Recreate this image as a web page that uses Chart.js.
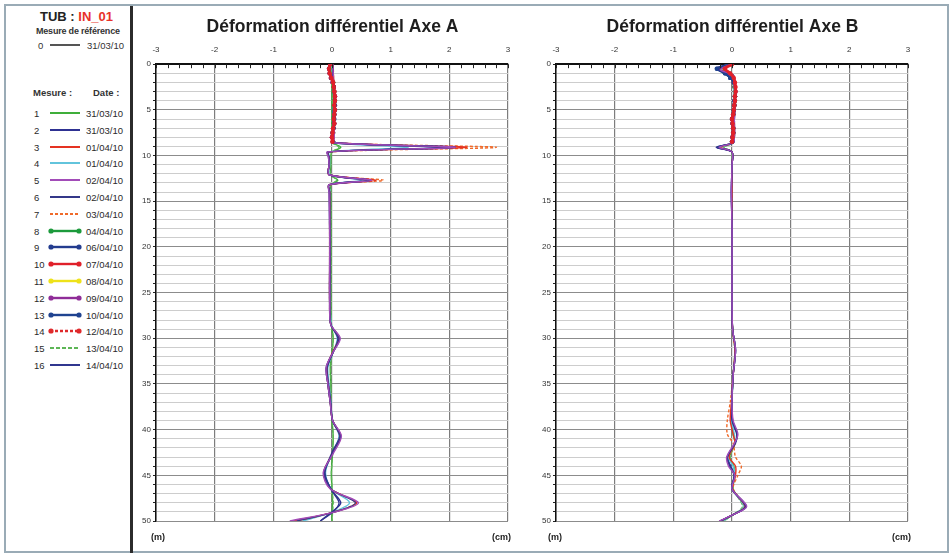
<!DOCTYPE html>
<html>
<head>
<meta charset="utf-8">
<script src="https://cdn.jsdelivr.net/npm/chart.js@4.4.1/dist/chart.umd.min.js"></script>
<style>
  body { margin: 0; background: #fff; }
  #page { position: relative; width: 951px; height: 553px; overflow: hidden; background: #fff;
          font-family: "Liberation Sans Narrow", "DejaVu Sans Condensed", "Liberation Sans", sans-serif; color: #333; }
  .frame { position: absolute; left: 4px; top: 4px; width: 941px; height: 545px; border: 2px solid #9aabb6; }
  .sep { position: absolute; left: 130px; top: 6px; width: 3px; height: 547px; background: #2b2b2b; }
  .txt { position: absolute; white-space: nowrap; line-height: 1; }
  canvas { position: absolute; top: 0; }
  .unit { position: absolute; top: 532px; font: bold 9px "Liberation Sans", sans-serif; color: #222; }
</style>
</head>
<body>
<div id="page">
  <div class="frame"></div>
  <div class="sep"></div>
  <div id="legend"></div>
  <canvas id="chartA" width="395" height="553" style="left:135px"></canvas>
  <canvas id="chartB" width="395" height="553" style="left:535px"></canvas>
  <div class="unit" style="left:151px">(m)</div>
  <div class="unit" style="left:492px">(cm)</div>
  <div class="unit" style="left:548px">(m)</div>
  <div class="unit" style="left:892px">(cm)</div>
</div>
<script>
// Measurement dates (legend)
const refDate = '31/03/10';
const mesureDates = ['31/03/10', '31/03/10', '01/04/10', '01/04/10', '02/04/10', '02/04/10', '03/04/10', '04/04/10',
  '06/04/10', '07/04/10', '08/04/10', '09/04/10', '10/04/10', '12/04/10', '13/04/10', '14/04/10'];

// Axis ticks
const xTicks = [-3, -2, -1, 0, 1, 2, 3];
const depthMax = 50;

// Depths (m) for the full-length readings
const depthA = [0, 2, 4, 6, 8, 8.6, 9.1, 9.6, 10.2, 11, 12.1, 12.7, 13.2, 14, 18, 22, 26, 28.5, 30, 31.5, 33.2, 35, 37, 39, 40.7, 42.5, 44.7, 46.5, 48, 49, 50];
const depthB = [0, 0.6, 1.2, 2, 4, 6, 8, 8.6, 9.1, 9.6, 11, 14, 18, 22, 26, 29, 31.3, 34, 37, 39, 40.5, 41.5, 43, 44, 45, 46.5, 48.4, 49.3, 50];
// Depths (m) for the readings with markers (top of tube only)
const depthTop = [0, 0.5, 1, 1.5, 2, 2.5, 3, 3.5, 4, 4.5, 5, 5.5, 6, 6.5, 7, 7.5, 8, 8.5];

// Axe A (cm)
const axeA_1 = [0, 0, 0, 0, 0, 0.01, 0.15, 0, -0.02, -0.02, -0.02, 0.1, -0.02, -0.02, -0.02, -0.02, -0.02, -0.01, 0.02, 0, -0.03, -0.02, -0.02, 0, 0.02, 0.01, -0.01, 0, 0.01, 0, 0];
const axeA_2 = [0.01, 0.02, 0.03, 0.02, 0.03, 0.02, 1.9, -0.06, -0.05, -0.05, -0.05, 0.6, -0.05, -0.04, -0.04, -0.03, -0.04, -0.02, 0.1, 0.02, -0.08, -0.06, -0.02, 0.01, 0.13, 0, -0.12, -0.02, 0.15, 0, -0.2];
const axeA_3 = [0.01, 0.03, 0.04, 0.03, 0.04, 0.03, 2.3, -0.07, -0.05, -0.05, -0.05, 0.75, -0.05, -0.04, -0.04, -0.04, -0.04, -0.02, 0.12, 0.01, -0.09, -0.07, -0.03, 0.01, 0.14, 0.02, -0.14, -0.02, 0.42, 0.05, -0.65];
const axeA_4 = [0, 0.02, 0.03, 0.02, 0.02, 0.02, 1.3, -0.05, -0.04, -0.04, -0.04, 0.5, -0.04, -0.03, -0.03, -0.03, -0.03, -0.01, 0.09, 0.02, -0.07, -0.05, -0.02, 0.01, 0.12, 0.01, -0.11, -0.01, 0.3, 0.02, -0.5];
const axeA_5 = [0.01, 0.03, 0.04, 0.03, 0.04, 0.03, 2.1, -0.08, -0.06, -0.05, -0.05, 0.68, -0.05, -0.05, -0.04, -0.04, -0.04, -0.02, 0.14, 0.02, -0.1, -0.07, -0.03, 0.01, 0.16, 0.03, -0.15, -0.03, 0.45, 0.06, -0.72];
const axeA_6 = [0.01, 0.02, 0.04, 0.03, 0.03, 0.02, 2.05, -0.07, -0.06, -0.05, -0.05, 0.66, -0.05, -0.05, -0.04, -0.04, -0.04, -0.02, 0.13, 0.02, -0.1, -0.07, -0.03, 0.01, 0.15, 0.02, -0.14, -0.02, 0.4, 0.05, -0.6];
const axeA_7 = [0.02, 0.03, 0.04, 0.03, 0.04, 0.03, 2.8, -0.06, -0.05, -0.05, -0.05, 0.88, -0.05, -0.04, -0.04, -0.04, -0.04, -0.02, 0.12, 0.02, -0.09, -0.06, -0.03, 0.01, 0.15, 0.02, -0.13, -0.02, 0.4, 0.04, -0.6];
const axeA_8 = [-0.02, -0.04, -0.03, 0, 0.02, 0.03, 0.04, 0.04, 0.05, 0.04, 0.04, 0.04, 0.03, 0.03, 0.02, 0.02, 0.01, 0.02];
const axeA_9 = [-0.03, -0.05, -0.03, -0.01, 0.01, 0.03, 0.03, 0.04, 0.04, 0.04, 0.05, 0.03, 0.03, 0.04, 0.02, 0.01, 0, 0.02];
const axeA_10 = [-0.03, -0.05, -0.04, -0.01, 0.02, 0.03, 0.04, 0.05, 0.05, 0.04, 0.05, 0.04, 0.03, 0.04, 0.02, 0.01, 0, 0.01];
const axeA_11 = [-0.02, -0.04, -0.03, -0.01, 0.02, 0.02, 0.04, 0.04, 0.05, 0.04, 0.04, 0.03, 0.03, 0.03, 0.02, 0.01, 0.01, 0.01];
const axeA_12 = [-0.03, -0.05, -0.04, -0.02, 0.01, 0.03, 0.04, 0.05, 0.04, 0.04, 0.05, 0.04, 0.03, 0.03, 0.02, 0.02, 0, 0.01];
const axeA_13 = [-0.02, -0.05, -0.04, -0.01, 0.02, 0.03, 0.03, 0.05, 0.05, 0.05, 0.04, 0.04, 0.04, 0.03, 0.03, 0.01, 0.01, 0.02];
const axeA_14 = [-0.03, -0.04, -0.04, -0.02, 0.01, 0.03, 0.04, 0.04, 0.05, 0.04, 0.05, 0.03, 0.03, 0.04, 0.02, 0.01, 0, 0.01];
const axeA_15 = [0, 0, 0.01, 0, 0, 0.01, 0.12, 0, -0.02, -0.02, -0.02, 0.08, -0.02, -0.02, -0.02, -0.02, -0.02, -0.01, 0.02, 0, -0.02, -0.02, -0.02, 0, 0.02, 0.01, -0.01, 0, 0.02, 0.01, 0];
const axeA_16 = [0.01, 0.02, 0.03, 0.02, 0.03, 0.02, 2.1, -0.07, -0.05, -0.05, -0.05, 0.65, -0.05, -0.04, -0.04, -0.04, -0.04, -0.02, 0.12, 0.02, -0.09, -0.07, -0.03, 0.01, 0.14, 0.02, -0.13, -0.02, 0.12, 0.02, -0.2];

// Axe B (cm)
const axeB_1 = [0, -0.15, 0.01, 0.03, 0.04, 0.03, 0.03, 0.02, -0.15, 0, 0, 0, 0, 0, 0, 0.01, 0.05, 0.02, 0, 0, 0.02, 0.05, -0.04, 0.03, 0.05, 0.02, 0.2, 0.02, -0.15];
const axeB_2 = [0, -0.22, 0.02, 0.04, 0.05, 0.04, 0.04, 0.02, -0.27, 0, 0, -0.01, 0, 0, 0, 0.01, 0.06, 0.02, 0, 0, 0.08, 0.06, -0.08, -0.02, 0.04, 0, 0.24, 0.02, -0.2];
const axeB_3 = [0, -0.2, 0.02, 0.04, 0.05, 0.04, 0.04, 0.02, -0.22, 0, 0, 0, 0, 0, 0, 0.01, 0.05, 0.02, -0.01, -0.03, 0.02, 0.05, -0.05, 0.06, 0.06, 0.01, 0.22, 0.02, -0.2];
const axeB_4 = [0, -0.18, 0.01, 0.03, 0.04, 0.04, 0.03, 0.02, -0.18, 0, 0, 0, 0, 0, 0, 0.01, 0.05, 0.02, 0, -0.01, 0.04, 0.05, -0.06, 0.02, 0.05, 0.01, 0.2, 0.02, -0.16];
const axeB_5 = [0, -0.2, 0.02, 0.04, 0.05, 0.04, 0.04, 0.02, -0.22, 0, 0, -0.01, 0, 0, 0, 0.01, 0.06, 0.02, 0, 0.02, 0.1, 0.04, -0.09, -0.06, 0.05, 0, 0.25, 0.02, -0.22];
const axeB_6 = [0, -0.21, 0.02, 0.04, 0.05, 0.04, 0.04, 0.02, -0.25, 0, 0, -0.01, 0, 0, 0, 0.01, 0.06, 0.02, 0, 0.01, 0.09, 0.05, -0.08, -0.04, 0.04, 0, 0.24, 0.02, -0.21];
const axeB_7 = [0, -0.2, 0.02, 0.04, 0.05, 0.04, 0.04, 0.02, -0.2, 0, 0, 0, 0, 0, 0, 0.01, 0.05, 0.02, -0.03, -0.08, -0.08, 0.02, 0.06, 0.16, 0.1, 0.02, 0.22, 0.02, -0.2];
const axeB_8 = [-0.05, -0.22, -0.1, -0.02, 0.03, 0.04, 0.05, 0.05, 0.05, 0.04, 0.03, 0.02, 0, 0.01, 0.02, 0.02, 0.01, 0];
const axeB_9 = [-0.06, -0.25, -0.12, -0.03, 0.03, 0.05, 0.05, 0.05, 0.04, 0.04, 0.03, 0.02, 0, 0.01, 0.02, 0.02, 0.01, 0];
const axeB_10 = [0, -0.12, -0.03, 0.03, 0.05, 0.06, 0.06, 0.05, 0.05, 0.04, 0.03, 0.02, 0, 0.01, 0.02, 0.02, 0.01, 0];
const axeB_11 = [-0.04, -0.2, -0.08, -0.01, 0.03, 0.05, 0.05, 0.05, 0.05, 0.04, 0.03, 0.02, 0.01, 0.01, 0.02, 0.02, 0.01, 0];
const axeB_12 = [-0.05, -0.23, -0.1, -0.02, 0.03, 0.05, 0.06, 0.05, 0.05, 0.04, 0.03, 0.02, 0, 0.01, 0.02, 0.02, 0.01, 0];
const axeB_13 = [-0.06, -0.26, -0.12, -0.03, 0.03, 0.05, 0.05, 0.05, 0.04, 0.04, 0.03, 0.02, 0, 0.01, 0.02, 0.02, 0.01, 0];
const axeB_14 = [-0.02, -0.15, -0.05, 0.02, 0.04, 0.05, 0.06, 0.05, 0.05, 0.04, 0.03, 0.02, 0, 0.01, 0.02, 0.02, 0.01, 0];
const axeB_15 = [0, -0.14, 0.01, 0.03, 0.04, 0.03, 0.03, 0.02, -0.14, 0, 0, 0, 0, 0, 0, 0.01, 0.05, 0.02, 0, 0, 0.02, 0.05, -0.03, 0.03, 0.05, 0.02, 0.18, 0.02, -0.14];
const axeB_16 = [0, -0.22, 0.02, 0.04, 0.05, 0.04, 0.04, 0.02, -0.26, 0, 0, -0.01, 0, 0, 0, 0.01, 0.06, 0.02, 0, 0.01, 0.09, 0.05, -0.08, -0.03, 0.04, 0, 0.23, 0.02, -0.2];

const seriesA = [axeA_1, axeA_2, axeA_3, axeA_4, axeA_5, axeA_6, axeA_7, axeA_8, axeA_9, axeA_10, axeA_11, axeA_12, axeA_13, axeA_14, axeA_15, axeA_16];
const seriesB = [axeB_1, axeB_2, axeB_3, axeB_4, axeB_5, axeB_6, axeB_7, axeB_8, axeB_9, axeB_10, axeB_11, axeB_12, axeB_13, axeB_14, axeB_15, axeB_16];

// Line styles for each measurement (1..16)
const styles = [
  { color: '#3fae3a', dash: [], marker: false, order: 12 },
  { color: '#2e3192', dash: [], marker: false, order: 6 },
  { color: '#e53322', dash: [], marker: false, order: 5 },
  { color: '#62c4dc', dash: [], marker: false, order: 9 },
  { color: '#a24cb8', dash: [], marker: false, order: 1 },
  { color: '#343889', dash: [], marker: false, order: 3 },
  { color: '#f06a2a', dash: [3, 2], marker: false, order: 8 },
  { color: '#1c9a3c', dash: [], marker: true, order: 16 },
  { color: '#233c8f', dash: [], marker: true, order: 15 },
  { color: '#e0202a', dash: [], marker: true, order: 0 },
  { color: '#eee21a', dash: [], marker: true, order: 17 },
  { color: '#8f2d98', dash: [], marker: true, order: 14 },
  { color: '#1f4390', dash: [], marker: true, order: 13 },
  { color: '#df2a2c', dash: [3, 2], marker: true, order: 18 },
  { color: '#5db656', dash: [4, 2], marker: false, order: 11 },
  { color: '#30368f', dash: [], marker: false, order: 2 }
];

// ----- legend (left column) -----
const legend = document.getElementById('legend');
const legFont = '"Liberation Sans Narrow","Liberation Sans",sans-serif';
function addText(html, left, top, css) {
  const d = document.createElement('div');
  d.className = 'txt';
  d.style.left = left + 'px';
  d.style.top = top + 'px';
  d.style.cssText += css || '';
  d.innerHTML = html;
  legend.appendChild(d);
  return d;
}
function sample(style, top) {
  const svg = `<svg width="34" height="8" style="position:absolute;left:48px;top:${top + 1}px">
    <line x1="2" y1="4" x2="32" y2="4" stroke="${style.color}" stroke-width="${style.marker ? 2.4 : 2}"
      stroke-dasharray="${style.dash.join(',')}"/>
    ${style.marker ? `<circle cx="3" cy="4" r="2.6" fill="${style.color}"/><circle cx="31" cy="4" r="2.6" fill="${style.color}"/>` : ''}
  </svg>`;
  legend.insertAdjacentHTML('beforeend', svg);
}
addText('TUB : <span style="color:#e8322a">IN_01</span>', 40, 9, 'font:bold 13px "Liberation Sans",sans-serif;color:#222;');
addText('Mesure de référence', 36, 26, `font:bold 9px ${legFont};color:#333;letter-spacing:-0.2px;`);
addText('0', 38, 40, `font:9.5px ${legFont};`);
sample({ color: '#555', dash: [], marker: false }, 40);
addText(refDate, 87, 40, `font:9.5px ${legFont};`);
addText('Mesure :', 33, 87, `font:bold 9.5px ${legFont};`);
addText('Date :', 93, 87, `font:bold 9.5px ${legFont};`);
mesureDates.forEach((d, i) => {
  const y = 108 + i * 16.8;
  addText(String(i + 1), 34, y, `font:9.5px ${legFont};color:#2a2a2a;`);
  sample(styles[i], y);
  addText(d, 86, y, `font:9.5px ${legFont};color:#2a2a2a;`);
});

// ----- charts -----
const minorTicks = {
  id: 'minorTicks',
  afterDraw(chart) {
    const { ctx, chartArea, scales: { x } } = chart;
    ctx.save();
    ctx.strokeStyle = '#222';
    ctx.lineWidth = 1;
    x.ticks.forEach(t => {
      const px = Math.round(x.getPixelForValue(t.value)) + 0.5;
      ctx.beginPath();
      ctx.moveTo(px, chartArea.top);
      ctx.lineTo(px, chartArea.top + 4);
      ctx.stroke();
    });
    ctx.restore();
  }
};

const isInt = v => Math.abs(v - Math.round(v)) < 1e-6;

function buildDatasets(series, depth) {
  return series.map((vals, i) => {
    const st = styles[i];
    const dep = vals.length === depthTop.length ? depthTop : depth;
    return {
      label: 'Mesure ' + (i + 1) + ' ' + mesureDates[i],
      data: vals.map((v, k) => ({ x: v, y: dep[k] })),
      showLine: true,
      borderColor: st.color,
      backgroundColor: st.color,
      borderWidth: st.marker ? (i === 9 ? 3 : 2) : 1.4,
      borderDash: st.dash,
      pointRadius: st.marker ? 2.2 : 0,
      pointBorderWidth: 0,
      tension: 0.3,
      fill: false,
      order: st.order
    };
  });
}

function makeChart(id, title, series, depth) {
  return new Chart(document.getElementById(id), {
    type: 'scatter',
    data: { datasets: buildDatasets(series, depth) },
    options: {
      responsive: false,
      animation: false,
      layout: { padding: { left: 0, right: 0, top: 0, bottom: 32 } },
      plugins: {
        legend: { display: false },
        tooltip: { enabled: false },
        title: {
          display: true,
          text: title,
          color: '#1e1e1e',
          font: { family: '"Liberation Sans", Arial, sans-serif', size: 17.5, weight: 'bold' },
          padding: { top: 16.5, bottom: 3.5 }
        }
      },
      scales: {
        x: {
          type: 'linear',
          position: 'top',
          min: xTicks[0],
          max: xTicks[xTicks.length - 1],
          ticks: {
            stepSize: 0.2,
            autoSkip: false,
            maxRotation: 0,
            padding: 10,
            color: '#333',
            font: { family: '"Liberation Sans Narrow", "Liberation Sans", sans-serif', size: 8 },
            callback: v => (isInt(v) ? Math.round(v) : '')
          },
          grid: {
            color: ctx => (ctx.tick && isInt(ctx.tick.value) ? '#7d7d7d' : 'rgba(0,0,0,0)'),
            lineWidth: 1.2,
            drawTicks: false
          },
          border: { color: '#111', width: 2 },
          afterFit: s => { s.height = 23.2; }
        },
        y: {
          type: 'linear',
          reverse: true,
          min: 0,
          max: depthMax,
          ticks: {
            stepSize: 1,
            autoSkip: false,
            padding: 2,
            color: '#333',
            font: { family: '"Liberation Sans Narrow", "Liberation Sans", sans-serif', size: 8 },
            callback: v => (v % 5 === 0 ? v : '')
          },
          grid: {
            color: ctx => (ctx.tick && ctx.tick.value % 5 === 0 ? '#8c8c8c' : '#cdcdcd'),
            lineWidth: 1,
            tickLength: 3,
            tickColor: '#222'
          },
          border: { color: '#111', width: 1.5 },
          afterFit: s => { s.width = 21; }
        },
        // empty right margin so the title stays centred over the plot
        yRight: {
          type: 'linear',
          position: 'right',
          display: true,
          ticks: { display: false },
          grid: { display: false, drawTicks: false },
          border: { display: false },
          afterFit: s => { s.width = 22; }
        }
      }
    },
    plugins: [minorTicks]
  });
}

makeChart('chartA', 'Déformation différentiel Axe A', seriesA, depthA);
makeChart('chartB', 'Déformation différentiel Axe B', seriesB, depthB);
</script>
</body>
</html>
